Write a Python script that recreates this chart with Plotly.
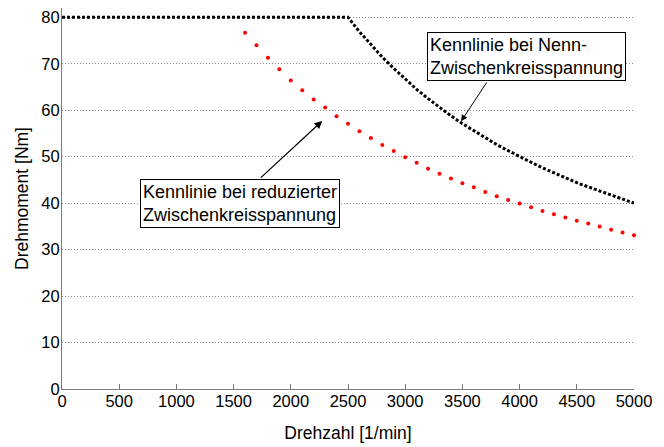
import plotly.graph_objects as go

# Drehmoment-Kennlinien eines Antriebs: Nennspannung vs. reduzierte Zwischenkreisspannung
drehzahl_nenn = [0, 2500, 2600, 2700, 2800, 2900, 3000, 3100, 3200, 3300, 3400,
                 3500, 3600, 3700, 3800, 3900, 4000, 4100, 4200, 4300, 4400,
                 4500, 4600, 4700, 4800, 4900, 5000]
moment_nenn = [80.0, 80.0, 76.9, 74.1, 71.4, 69.0, 66.7, 64.5, 62.5, 60.6, 58.8,
               57.1, 55.6, 54.1, 52.6, 51.3, 50.0, 48.8, 47.6, 46.5, 45.5,
               44.4, 43.5, 42.6, 41.7, 40.8, 40.0]

drehzahl_red = [1600, 1700, 1800, 1900, 2000, 2100, 2200, 2300, 2400, 2500,
                2600, 2700, 2800, 2900, 3000, 3100, 3200, 3300, 3400, 3500,
                3600, 3700, 3800, 3900, 4000, 4100, 4200, 4300, 4400, 4500,
                4600, 4700, 4800, 4900, 5000]
moment_red = [76.7, 74.0, 71.3, 68.8, 66.4, 64.3, 62.3, 60.6, 58.7, 57.1,
              55.5, 54.0, 52.5, 51.2, 49.9, 48.7, 47.4, 46.3, 45.3, 44.3,
              43.4, 42.4, 41.5, 40.7, 39.9, 39.1, 38.3, 37.6, 36.9, 36.2,
              35.6, 35.0, 34.3, 33.7, 33.1]

x_ticks = [0, 500, 1000, 1500, 2000, 2500, 3000, 3500, 4000, 4500, 5000]
y_ticks = [0, 10, 20, 30, 40, 50, 60, 70, 80]

label_nenn = "Kennlinie bei Nenn-<br>Zwischenkreisspannung"
label_red = "Kennlinie bei reduzierter<br>Zwischenkreisspannung"

FONT = "Liberation Sans, Arial, sans-serif"

fig = go.Figure()

fig.add_trace(go.Scatter(
    x=drehzahl_nenn, y=moment_nenn, mode="lines",
    line=dict(color="black", width=3, dash="3px,2px"),
    showlegend=False, hoverinfo="skip",
))

fig.add_trace(go.Scatter(
    x=drehzahl_red, y=moment_red, mode="markers",
    marker=dict(color="red", size=4, line=dict(width=0)),
    cliponaxis=False, showlegend=False, hoverinfo="skip",
))

# Beschriftungskästen
fig.add_annotation(
    x=4058, y=71.5, xref="x", yref="y", text=label_nenn, showarrow=False,
    align="left", font=dict(family=FONT, size=18, color="black"),
    bgcolor="white", bordercolor="black", borderwidth=1, borderpad=2,
)
fig.add_annotation(
    x=1552, y=40.0, xref="x", yref="y", text=label_red, showarrow=False,
    align="left", font=dict(family=FONT, size=18, color="black"),
    bgcolor="white", bordercolor="black", borderwidth=1, borderpad=2,
)

# Pfeile zu den Kennlinien
fig.add_annotation(
    x=3488, y=57.6, ax=3721, ay=66.3, xref="x", yref="y", axref="x", ayref="y",
    text="", showarrow=True, arrowhead=2, arrowsize=1.3, arrowwidth=1,
    arrowcolor="black",
)
fig.add_annotation(
    x=2275, y=57.7, ax=1725, ay=45.2, xref="x", yref="y", axref="x", ayref="y",
    text="", showarrow=True, arrowhead=2, arrowsize=1.3, arrowwidth=1.2,
    arrowcolor="black",
)

fig.update_layout(
    width=664, height=447,
    margin=dict(l=62, r=30, t=8, b=55),
    paper_bgcolor="white", plot_bgcolor="white",
    font=dict(family=FONT, color="black"),
    showlegend=False,
)

fig.update_xaxes(
    range=[0, 5000], tickvals=x_ticks, ticktext=[str(v) for v in x_ticks],
    showgrid=False, zeroline=False,
    showline=True, linecolor="#7a7a7a", linewidth=1, mirror=False,
    ticks="inside", ticklen=5, tickcolor="#7a7a7a", tickwidth=1,
    ticklabelstandoff=-3,
    tickfont=dict(size=16.5, color="black"),
    title=dict(text="Drehzahl [1/min]", font=dict(size=17.5, color="black"), standoff=17),
)
fig.update_yaxes(
    range=[0, 82], tickvals=y_ticks, ticktext=[str(v) for v in y_ticks],
    showgrid=True, gridcolor="#8a8a8a", gridwidth=1, griddash="1px,2px",
    zeroline=False,
    showline=True, linecolor="#7a7a7a", linewidth=1, mirror=False,
    ticks="", ticklabelstandoff=-2,
    tickfont=dict(size=16.5, color="black"),
    title=dict(text="Drehmoment [Nm]", font=dict(size=17.5, color="black"), standoff=8),
)

fig.write_html("out.html")
